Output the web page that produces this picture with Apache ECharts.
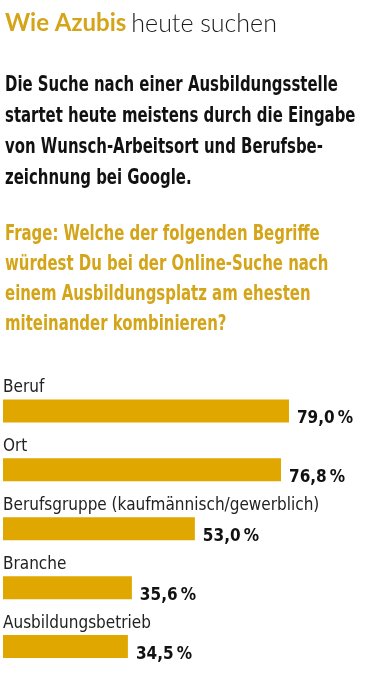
<!DOCTYPE html>
<html><head><meta charset="utf-8">
<script src="https://cdn.jsdelivr.net/npm/echarts@6/dist/echarts.min.js"></script>
<style>html,body{margin:0;padding:0;background:#fff}#c{width:372px;height:676px}</style>
</head><body><div id="c"></div>
<script>
const categories = ['Beruf', 'Ort', 'Berufsgruppe (kaufmännisch/gewerblich)', 'Branche', 'Ausbildungsbetrieb'];
const values = [79.0, 76.8, 53.0, 35.6, 34.5];
const headingBold = 'Wie Azubis';
const headingLight = 'heute suchen';
const introLines = ['Die Suche nach einer Ausbildungsstelle', 'startet heute meistens durch die Eingabe', 'von Wunsch-Arbeitsort und Berufsbe-', 'zeichnung bei Google.'];
const questionLines = ['Frage: Welche der folgenden Begriffe', 'würdest Du bei der Online-Suche nach', 'einem Ausbildungsplatz am ehesten', 'miteinander kombinieren?'];

const GOLD = '#DFA700';
const TGOLD = '#D4A419';
const NARROW = "'DejaVu Sans Condensed', 'Roboto', sans-serif";

const chart = echarts.init(document.getElementById('c'), null, {renderer: 'canvas'});
chart.setOption({
  animation: false,
  backgroundColor: '#fff',
  title: [
    {
      left: 5, top: 11, padding: 0,
      text: '{b|' + headingBold + '} {l|' + headingLight + '}',
      textStyle: {
        rich: {
          b: {fontFamily: 'Lato', fontWeight: 'bold', fontSize: 24, color: TGOLD},
          l: {fontFamily: 'Lato', fontWeight: 300, fontSize: 25, color: '#1a1a1a'}
        }
      }
    }
  ],
  graphic: [
    {
      type: 'text', x: 5, y: 70, scaleX: 0.79,
      style: {text: introLines.join('\n'), font: "bold 21px 'DejaVu Sans Condensed'", lineHeight: 31, fill: '#111', verticalAlign: 'top'}
    },
    {
      type: 'text', x: 5, y: 220, scaleX: 0.79,
      style: {text: questionLines.join('\n'), font: "bold 21px 'DejaVu Sans Condensed'", lineHeight: 30, fill: TGOLD, verticalAlign: 'top'}
    }
  ],
  grid: {left: 3, top: 381.5, width: 362, height: 302.5, containLabel: false},
  xAxis: {type: 'value', min: 0, max: 100, show: false},
  yAxis: {
    type: 'category', data: categories, inverse: true,
    axisLine: {show: false}, axisTick: {show: false}, axisLabel: {show: false}
  },
  series: [
    {
      type: 'bar', data: values, barWidth: 23, barGap: '-100%',
      itemStyle: {color: GOLD},
      label: {
        show: true, position: 'right', distance: 8, offset: [0, 8],
        fontFamily: NARROW, fontWeight: 'bold', fontSize: 17, color: '#111',
        formatter: p => p.value.toFixed(1).replace('.', ',') + '\u2009%'
      }
    },
    {
      type: 'bar', data: values, barWidth: 23, barGap: '-100%', z: 5,
      itemStyle: {color: 'rgba(0,0,0,0)'},
      label: {
        show: true, position: 'insideLeft', distance: 0, offset: [0, -23],
        fontFamily: NARROW, fontSize: 17, color: '#222',
        formatter: p => categories[p.dataIndex]
      }
    }
  ]
});
</script></body></html>
